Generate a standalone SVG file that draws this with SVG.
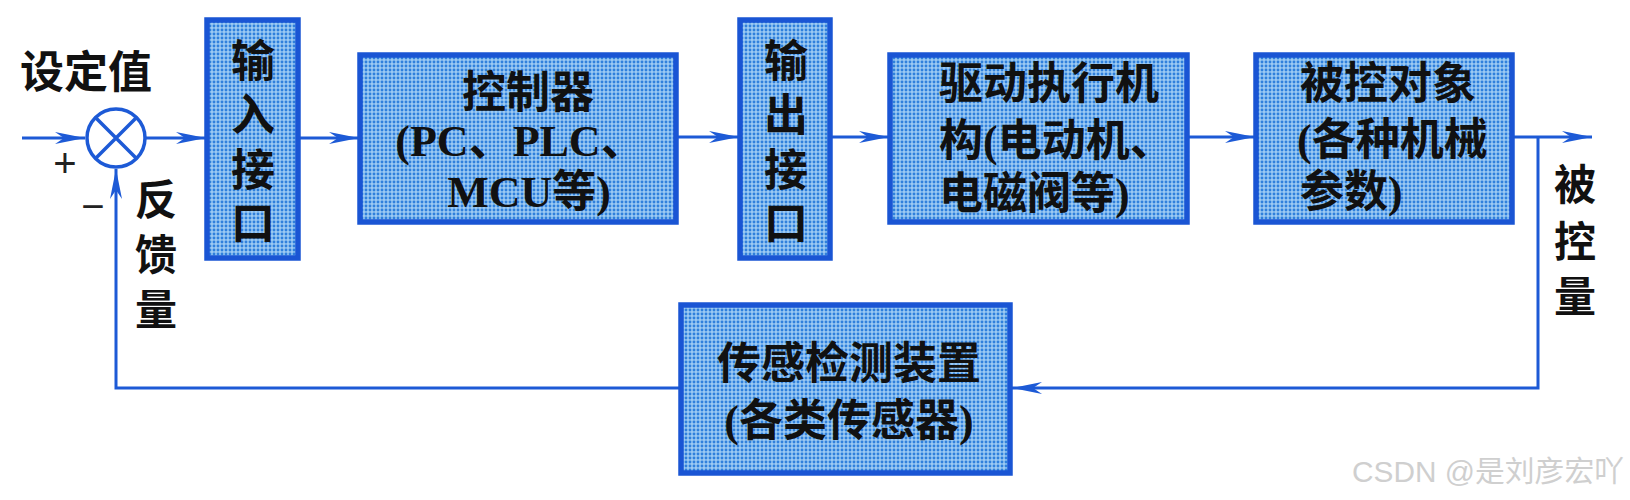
<svg xmlns="http://www.w3.org/2000/svg" width="1630" height="500" viewBox="0 0 1630 500">
<style>
.box { fill: url(#dots); stroke: #1a55d4; stroke-width: 5.5; }
.t { font-family: "Liberation Serif", "Noto Sans CJK SC", serif; font-size: 44px; font-weight: 700; fill: #111; }
.lbl { font-family: "Liberation Serif", "Noto Sans CJK SC", serif; font-size: 42px; font-weight: 700; fill: #111; }
.sign { font-family: "Liberation Sans", sans-serif; font-size: 40px; fill: #222; }
.wire { fill: none; stroke: #1d5ad6; stroke-width: 3; }
.wm { font-family: "Liberation Sans", "Noto Sans CJK SC", sans-serif; font-size: 29px; fill: #cfcfcf; }
</style>
<defs>
<pattern id="dots" width="4" height="4" patternUnits="userSpaceOnUse">
<rect width="4" height="4" fill="#9ccaf3"/>
<circle cx="2" cy="2" r="1.45" fill="#2f80dc"/>
</pattern>
<marker id="arr" viewBox="-32 -8 34 16" refX="0" refY="0" markerWidth="34" markerHeight="16" markerUnits="userSpaceOnUse" orient="auto">
<path d="M0,0 L-30,-6 L-21,0 L-30,6 Z" fill="#1d5ad6"/>
</marker>
</defs>
<rect width="1630" height="500" fill="#ffffff"/>

<g id="connectors">
<path class="wire" d="M22,138 L85,138" marker-end="url(#arr)"/>
<path class="wire" d="M146,138 L206,138" marker-end="url(#arr)"/>
<path class="wire" d="M298,138 L359,138" marker-end="url(#arr)"/>
<path class="wire" d="M676,137 L739,137" marker-end="url(#arr)"/>
<path class="wire" d="M830,137 L889,137" marker-end="url(#arr)"/>
<path class="wire" d="M1187,137 L1255,137" marker-end="url(#arr)"/>
<path class="wire" d="M1512,137 L1592,137" marker-end="url(#arr)"/>
<path class="wire" d="M1538,137 L1538,388 L1012,388" marker-end="url(#arr)"/>
<path class="wire" d="M681,388 L116,388 L116,169" marker-end="url(#arr)"/>
</g>

<g id="sum">
<circle cx="116" cy="138" r="29" fill="none" stroke="#1d5ad6" stroke-width="3.5"/>
<path d="M95.5,117.5 L136.5,158.5 M136.5,117.5 L95.5,158.5" stroke="#1d5ad6" stroke-width="3.5"/>
<text class="sign" x="65" y="177" text-anchor="middle">+</text>
<text class="sign" x="93" y="220" text-anchor="middle">−</text>
</g>

<g id="setpoint">
<text class="t" x="20" y="88">设定值</text>
</g>

<g id="feedback-label">
<text class="lbl" text-anchor="middle"><tspan x="156" y="215">反</tspan><tspan x="156" y="270">馈</tspan><tspan x="156" y="325">量</tspan></text>
</g>

<g id="input-if">
<rect class="box" x="207" y="20" width="91" height="238"/>
<text class="t" text-anchor="middle"><tspan x="253" y="77">输</tspan><tspan x="253" y="131">入</tspan><tspan x="253" y="186">接</tspan><tspan x="253" y="239">口</tspan></text>
</g>

<g id="controller">
<rect class="box" x="360" y="55" width="316" height="167"/>
<text class="t" text-anchor="middle"><tspan x="528" y="108">控制器</tspan><tspan x="520" y="156">(PC、PLC、</tspan><tspan x="529" y="207">MCU等)</tspan></text>
</g>

<g id="output-if">
<rect class="box" x="740" y="20" width="90" height="238"/>
<text class="t" text-anchor="middle"><tspan x="786" y="77">输</tspan><tspan x="786" y="131">出</tspan><tspan x="786" y="186">接</tspan><tspan x="786" y="239">口</tspan></text>
</g>

<g id="actuator">
<rect class="box" x="890" y="55" width="297" height="167"/>
<text class="t"><tspan x="939" y="99">驱动执行机</tspan><tspan x="939" y="156">构(电动机、</tspan><tspan x="939" y="209">电磁阀等)</tspan></text>
</g>

<g id="plant">
<rect class="box" x="1256" y="55" width="256" height="167"/>
<text class="t"><tspan x="1300" y="99">被控对象</tspan><tspan x="1297" y="155">(各种机械</tspan><tspan x="1300" y="207">参数)</tspan></text>
</g>

<g id="output-label">
<text class="lbl" text-anchor="middle"><tspan x="1575" y="200">被</tspan><tspan x="1575" y="257">控</tspan><tspan x="1575" y="312">量</tspan></text>
</g>

<g id="sensor">
<rect class="box" x="681" y="305" width="329" height="168"/>
<text class="t" text-anchor="middle"><tspan x="849" y="379">传感检测装置</tspan><tspan x="849" y="436">(各类传感器)</tspan></text>
</g>

<g id="watermark">
<text class="wm" x="1352" y="482" textLength="272" lengthAdjust="spacingAndGlyphs">CSDN @是刘彦宏吖</text>
</g>
</svg>
